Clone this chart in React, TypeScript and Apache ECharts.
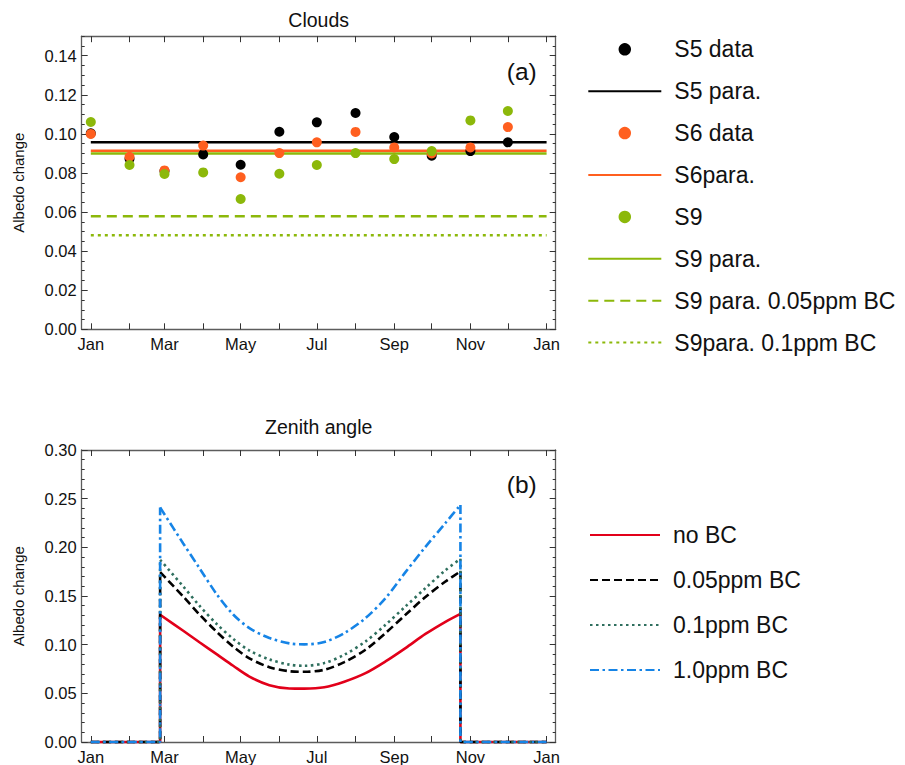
import React, { useEffect, useRef } from "react";
import * as echarts from "echarts";

// ---------- data ----------
const monthTicks = [0, 31, 59, 90, 120, 151, 181, 212, 243, 273, 304, 334, 365];
const labelDays = [0, 59, 120, 181, 243, 304, 365];
const labelNames = ["Jan", "Mar", "May", "Jul", "Sep", "Nov", "Jan"];

// panel (a): monthly data (first day of each month)
const dataDays = [0, 31, 59, 90, 120, 151, 181, 212, 243, 273, 304, 334];
const s5Data = [0.1003, 0.0873, 0.081, 0.0895, 0.0842, 0.1011, 0.1059, 0.1107, 0.0984, 0.0888, 0.0912, 0.0957];
const s6Data = [0.1, 0.0883, 0.0813, 0.094, 0.0778, 0.0902, 0.0957, 0.101, 0.0931, 0.09, 0.0931, 0.1035];
const s9Data = [0.1061, 0.0841, 0.0795, 0.0803, 0.0667, 0.0796, 0.0841, 0.0902, 0.0871, 0.0912, 0.1069, 0.1117];
const s5Para = 0.0957;
const s6Para = 0.0914;
const s9Para = 0.09;
const s9Para005 = 0.0578;
const s9Para01 = 0.0481;

// panel (b): zenith angle curves
const zenDays = [55.5, 74, 87, 101, 114, 127, 143, 159, 171, 187, 203, 220, 236, 252, 268, 284, 296];
const noBC = [0.1307, 0.1143, 0.1025, 0.0900, 0.0783, 0.0672, 0.0584, 0.0550, 0.0548, 0.0562, 0.0620, 0.0708, 0.0828, 0.0965, 0.1110, 0.1235, 0.1317];
const bc005 = [0.1745, 0.1495, 0.1310, 0.1130, 0.0980, 0.0860, 0.0768, 0.0727, 0.0721, 0.0742, 0.0821, 0.0948, 0.1119, 0.1307, 0.1490, 0.1649, 0.1752];
const bc01 = [0.1872, 0.1598, 0.1400, 0.1210, 0.1060, 0.0940, 0.0848, 0.0795, 0.0783, 0.0811, 0.0896, 0.1033, 0.1204, 0.1393, 0.1581, 0.1765, 0.1882];
const bc10 = [0.2409, 0.2040, 0.1786, 0.1515, 0.1310, 0.1170, 0.1068, 0.1013, 0.1003, 0.1027, 0.1119, 0.1273, 0.1478, 0.1745, 0.2005, 0.2250, 0.2436];

const topLegend = ["S5 data", "S5 para.", "S6 data", "S6para.", "S9", "S9 para.", "S9 para. 0.05ppm BC", "S9para. 0.1ppm BC"];
const topLegendIsLine = [false, true, false, true, false, true, true, true];
const botLegend = ["no BC", "0.05ppm BC", "0.1ppm BC", "1.0ppm BC"];

// ---------- styles ----------
const FONT = "'Liberation Sans', Arial, Helvetica, sans-serif";
const BLACK = "#000000";
const ORANGE = "#ff5f1f";
const GREEN = "#8cb80a";
const RED = "#e2001a";
const TEAL = "#2f6f5e";
const BLUE = "#1684e6";
const FRAME = "#5c5c5c";

const XMIN = -7.3;
const XMAX = 372.3;

function xFmt(v: number) {
  const i = labelDays.indexOf(Math.round(v));
  return i >= 0 ? labelNames[i] : "";
}

function xAxes(gridIndex: number) {
  const common = {
    type: "value",
    gridIndex,
    min: XMIN,
    max: XMAX,
    splitLine: { show: false },
    axisLine: { show: true, onZero: false, lineStyle: { color: FRAME, width: 1.3 } },
    axisTick: { show: true, inside: true, length: 6, customValues: monthTicks, lineStyle: { color: "#333", width: 1 } },
  };
  return [
    {
      ...common,
      position: "bottom",
      axisLabel: {
        show: true,
        customValues: labelDays,
        formatter: xFmt,
        margin: 6,
        color: "#111",
        fontFamily: FONT,
        fontSize: 16.5,
      },
    },
    { ...common, position: "top", axisLabel: { show: false } },
  ];
}

function yAxis(gridIndex: number, pos: string, max: number, interval: number, len: number, labels: boolean, line: boolean, minor?: boolean) {
  return {
    type: "value",
    gridIndex,
    position: pos,
    min: 0,
    max,
    interval,
    splitLine: { show: false },
    axisLine: { show: line, onZero: false, lineStyle: { color: FRAME, width: 1.3 } },
    axisTick: { show: true, inside: true, length: len, lineStyle: { color: "#333", width: 1 } },
    minorTick: minor ? { show: true, splitNumber: 5, length: 3, lineStyle: { color: "#333", width: 1 } } : { show: false },
    axisLabel: labels
      ? {
          show: true,
          margin: 5,
          color: "#111",
          fontFamily: FONT,
          fontSize: 16.5,
          showMaxLabel: max === 0.3,
          formatter: (v: number) => v.toFixed(2),
        }
      : { show: false },
  };
}

function hline(name: string, v: number, color: string, type: any) {
  return {
    type: "line",
    name,
    xAxisIndex: 0,
    yAxisIndex: 0,
    data: [
      [0, v],
      [365, v],
    ],
    symbol: "none",
    z: 2,
    lineStyle: { color, width: 2.5, type },
    itemStyle: { color },
  };
}

function dots(name: string, vals: number[], color: string, z: number) {
  return {
    type: "scatter",
    name,
    xAxisIndex: 0,
    yAxisIndex: 0,
    data: dataDays.map((d, i) => [d, vals[i]]),
    symbol: "circle",
    symbolSize: 10,
    z,
    itemStyle: { color, opacity: 1 },
  };
}

function curve(name: string, vals: number[], color: string, type: any, z: number) {
  const style = { color, width: 2.6, type };
  const last = zenDays.length - 1;
  return [
    {
      type: "line",
      name,
      xAxisIndex: 2,
      yAxisIndex: 4,
      data: zenDays.map((d, i) => [d, vals[i]]),
      symbol: "none",
      smooth: 0.3,
      z,
      lineStyle: style,
      itemStyle: { color },
    },
    {
      type: "line",
      name,
      xAxisIndex: 2,
      yAxisIndex: 4,
      data: [
        [0, 0],
        [zenDays[0], 0],
        [zenDays[0], vals[0]],
      ],
      symbol: "none",
      clip: false,
      z,
      lineStyle: style,
      itemStyle: { color },
    },
    {
      type: "line",
      name,
      xAxisIndex: 2,
      yAxisIndex: 4,
      data: [
        [zenDays[last], vals[last]],
        [zenDays[last], 0],
        [365, 0],
      ],
      symbol: "none",
      clip: false,
      z,
      lineStyle: style,
      itemStyle: { color },
    },
  ];
}

function txt(text: string, x: number, y: number, size: number, rotation = 0) {
  return {
    type: "text",
    x,
    y,
    rotation,
    z: 10,
    style: {
      text,
      font: `${size}px ${FONT}`,
      fill: "#111",
      align: "center",
      verticalAlign: "middle",
      textAlign: "center",
      textVerticalAlign: "middle",
    },
  };
}

export default function App() {
  const ref = useRef<HTMLDivElement>(null);
  useEffect(() => {
    if (!ref.current) return;
    const chart = echarts.init(ref.current, null, { renderer: "svg" });
    const legendText = { fontFamily: FONT, fontSize: 23, color: "#111", lineHeight: 24, padding: [0, 0, 0, 8] };
    const hidden = { opacity: 0, color: "rgba(0,0,0,0)", borderWidth: 0 };
    const option: any = {
      animation: false,
      backgroundColor: "#ffffff",
      grid: [
        { left: 81.7, top: 36.2, width: 474, height: 293.1, containLabel: false },
        { left: 81.7, top: 450, width: 474, height: 292.3, containLabel: false },
      ],
      xAxis: [...xAxes(0), ...xAxes(1)],
      yAxis: [
        yAxis(0, "left", 0.15, 0.02, 6, true, true),
        yAxis(0, "left", 0.15, 0.005, 3, false, false),
        yAxis(0, "right", 0.15, 0.02, 6, false, true),
        yAxis(0, "right", 0.15, 0.005, 3, false, false),
        yAxis(1, "left", 0.3, 0.05, 6, true, true, true),
        yAxis(1, "right", 0.3, 0.05, 6, false, true, true),
      ],
      legend: [
        {
          orient: "vertical",
          left: 587.3,
          top: 37.3,
          padding: 0,
          itemWidth: 73,
          itemHeight: 12.5,
          itemGap: 17.9,
          data: topLegend.map((n, i) => (topLegendIsLine[i] ? { name: n, itemStyle: hidden } : n)),
          textStyle: legendText,
          selectedMode: false,
        },
        {
          orient: "vertical",
          left: 589,
          top: 523,
          padding: 0,
          itemWidth: 70,
          itemHeight: 12.5,
          itemGap: 21,
          data: botLegend.map((n) => ({ name: n, itemStyle: hidden })),
          textStyle: legendText,
          selectedMode: false,
        },
      ],
      graphic: [
        txt("Clouds", 318.7, 20.3, 19.5),
        txt("Zenith angle", 318.7, 426.5, 19.5),
        txt("(a)", 521.7, 71.7, 24.5),
        txt("(b)", 521.7, 484.5, 24.5),
        txt("Albedo change", 18.3, 182.7, 15, Math.PI / 2),
        txt("Albedo change", 18.3, 596.2, 15, Math.PI / 2),
      ],
      series: [
        hline("S5 para.", s5Para, BLACK, "solid"),
        hline("S6para.", s6Para, ORANGE, "solid"),
        hline("S9 para.", s9Para, GREEN, "solid"),
        hline("S9 para. 0.05ppm BC", s9Para005, GREEN, [10, 6]),
        hline("S9para. 0.1ppm BC", s9Para01, GREEN, [3, 4]),
        dots("S5 data", s5Data, BLACK, 3),
        dots("S6 data", s6Data, ORANGE, 4),
        dots("S9", s9Data, GREEN, 5),
        ...curve("no BC", noBC, RED, "solid", 2),
        ...curve("0.05ppm BC", bc005, BLACK, [8, 4], 3),
        ...curve("0.1ppm BC", bc01, TEAL, [2.5, 3.5], 4),
        ...curve("1.0ppm BC", bc10, BLUE, [9, 3.5, 2.5, 3.5], 5),
      ],
    };
    chart.setOption(option);
    return () => chart.dispose();
  }, []);
  return <div ref={ref} style={{ position: "fixed", left: 0, top: 0, width: 905, height: 765 }} />;
}
